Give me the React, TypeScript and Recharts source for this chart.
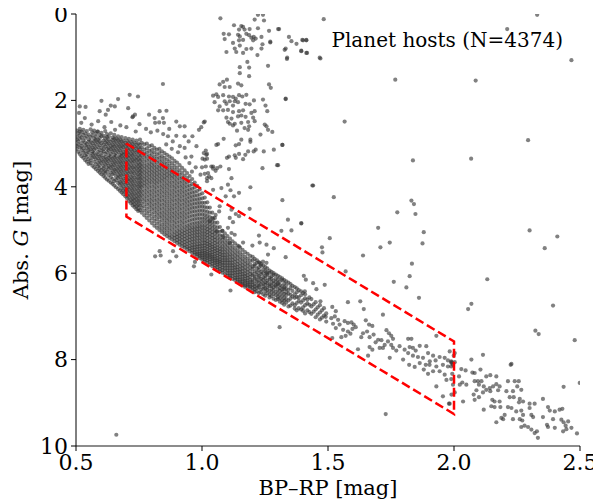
import React from 'react';
import { ScatterChart, Scatter, XAxis, YAxis } from 'recharts';

type Pt = [number, number];

const FONT = '"DejaVu Serif", "Liberation Serif", serif';

const xTicks = [0.5, 1.0, 1.5, 2.0, 2.5];
const yTicks = [0, 2, 4, 6, 8, 10];
const hostsLabel = 'Planet hosts (N=4374)';

// giant branch / red clump (top middle)
const giantBranch: Pt[] = [
  [1.073, 0.1], [1.209, 0.13], [1.222, 0.02], [1.242, 0.02], [1.246, 0.15], [1.127, 0.26], [1.156, 0.28],
  [1.163, 0.3], [1.147, 0.36], [1.169, 0.36], [1.189, 0.35], [1.222, 0.33], [1.266, 0.39], [1.306, 0.35],
  [1.086, 0.46], [1.107, 0.47], [1.143, 0.48], [1.15, 0.52], [1.176, 0.46], [1.187, 0.49], [1.196, 0.55],
  [1.205, 0.53], [1.213, 0.57], [1.203, 0.61], [1.147, 0.61], [1.163, 0.6], [1.09, 0.58], [1.236, 0.53],
  [1.271, 0.64], [1.24, 0.7], [1.123, 0.67], [1.15, 0.73], [1.345, 0.53], [1.355, 0.63], [1.375, 0.69],
  [1.398, 0.6], [1.414, 0.6], [1.332, 0.8], [1.394, 0.86], [1.414, 0.9], [1.467, 1.01], [1.338, 1.01],
  [1.13, 0.8], [1.136, 0.88], [1.163, 0.9], [1.176, 0.81], [1.196, 0.8], [1.236, 0.8], [1.22, 0.95],
  [1.097, 0.88], [1.18, 1.11], [1.15, 1.23], [1.187, 1.24], [1.262, 1.2], [1.15, 1.37], [1.187, 1.44],
  [1.099, 1.52], [1.084, 1.57], [1.07, 1.63], [1.09, 1.69], [1.11, 1.69], [1.143, 1.61], [1.156, 1.65],
  [1.266, 1.63], [1.273, 1.71], [1.057, 1.86], [1.044, 1.89], [1.064, 1.92], [1.084, 1.88], [1.107, 1.91],
  [1.123, 1.92], [1.134, 1.96], [1.147, 1.88], [1.16, 1.91], [1.176, 1.87], [1.09, 2.02], [1.11, 2.02],
  [1.13, 2.02], [1.143, 2.04], [1.05, 2.04], [1.07, 2.14], [1.097, 2.08], [1.123, 2.12], [1.173, 2.08],
  [1.189, 2.09], [1.206, 2.0], [1.242, 1.98], [1.252, 2.12], [1.332, 1.96], [1.064, 2.23], [1.084, 2.23],
  [1.103, 2.22], [1.123, 2.27], [1.147, 2.25], [1.163, 2.23], [1.196, 2.29], [1.209, 2.25], [1.259, 2.25],
  [1.097, 2.4], [1.117, 2.42], [1.143, 2.37], [1.156, 2.35], [1.173, 2.38], [1.203, 2.4], [1.103, 2.5],
  [1.11, 2.54], [1.13, 2.54], [1.156, 2.52], [1.183, 2.5], [1.209, 2.48], [1.249, 2.56], [1.011, 2.49],
];

// subgiants between the clump and the main sequence
const subgiants: Pt[] = [
  [0.997, 2.62], [1.123, 2.58], [1.139, 2.7], [1.169, 2.64], [1.187, 2.6], [1.183, 2.68], [1.256, 2.6],
  [1.262, 2.68], [1.279, 2.73], [1.232, 2.79], [1.086, 2.89], [1.156, 2.91], [1.192, 2.91], [1.192, 2.96],
  [1.147, 3.01], [1.134, 3.04], [1.064, 3.01], [1.319, 3.03], [1.285, 3.14], [1.245, 3.18], [1.213, 3.14],
  [1.205, 3.18], [1.183, 3.18], [1.172, 3.26], [1.147, 3.24], [1.13, 3.27], [1.134, 3.33], [1.163, 3.36],
  [1.107, 3.3], [1.099, 3.33], [1.015, 3.16], [1.02, 3.24], [1.007, 3.22], [1.011, 3.37], [1.002, 3.35],
  [1.02, 3.35], [1.015, 3.53], [1.037, 3.53], [1.06, 3.57], [1.073, 3.53], [1.054, 3.63], [1.044, 3.58],
  [1.024, 3.68], [1.011, 3.7], [1.037, 3.8], [1.028, 3.76], [1.02, 3.87], [1.107, 3.59], [1.117, 3.8],
  [1.24, 3.57], [1.298, 3.5], [1.441, 3.97], [1.192, 4.01], [1.077, 4.03], [1.044, 4.07], [1.103, 3.95],
  [1.113, 4.08], [1.147, 4.14], [1.127, 4.22], [1.094, 4.22], [1.07, 4.45], [1.068, 4.57], [1.054, 4.65],
  [1.044, 4.74], [1.031, 4.8], [1.117, 4.53], [1.11, 4.72], [1.123, 4.82], [1.134, 4.63], [1.147, 4.68],
  [1.189, 4.51], [1.103, 4.95], [1.081, 5.02], [1.057, 5.03], [1.117, 5.07], [1.341, 4.76], [1.394, 4.84],
  [1.315, 5.02], [1.355, 5.01],
];

// upper edge of the turn-off region
const turnoffHalo: Pt[] = [
  [0.515, 2.14], [0.538, 2.15], [0.512, 2.29], [0.535, 2.41], [0.521, 2.52], [0.515, 2.72], [0.601, 2.01],
  [0.667, 1.97], [0.713, 1.87], [0.746, 1.91], [0.627, 2.22], [0.594, 2.25], [0.618, 2.33], [0.654, 2.14],
  [0.707, 2.18], [0.726, 2.37], [0.832, 2.25], [0.859, 2.24], [0.79, 2.33], [0.812, 2.41], [0.845, 2.41],
  [0.898, 2.49], [0.912, 2.6], [0.931, 2.6], [1.007, 2.51], [0.988, 2.68], [0.962, 2.83], [0.931, 2.83],
  [0.898, 2.82], [0.865, 2.83], [0.912, 3.06], [0.978, 3.06], [1.057, 3.03], [1.017, 3.26], [1.044, 3.53],
  [0.994, 3.72], [0.958, 3.3], [0.931, 3.1], [0.638, 2.12], [0.734, 2.33], [0.724, 2.39], [0.814, 2.52],
  [0.83, 2.51], [0.849, 2.52], [0.562, 2.56], [0.588, 2.48], [0.64, 2.5], [0.676, 2.58], [0.7, 2.62],
  [0.752, 2.55], [0.778, 2.66], [0.797, 2.74], [0.823, 2.7], [0.846, 2.78], [0.87, 2.66], [0.884, 2.95],
  [0.947, 2.95], [0.858, 3.02], [0.88, 3.12], [0.905, 3.2], [0.95, 3.45], [0.975, 3.55], [0.935, 3.32],
  [0.96, 3.65], [1.02, 3.8], [1.0, 3.55], [0.613, 2.62], [0.585, 2.72], [0.737, 2.72], [0.655, 2.68],
];

// dense main sequence, read column by column: [BP-RP, G values]
const mainSeqCols: [number, number[]][] = [
  [0.503, [2.7, 2.84, 2.91, 3.05, 3.12]],
  [0.509, [2.76, 2.95, 3.02, 3.19]],
  [0.515, [2.66, 2.81, 2.89, 3.09, 3.24]],
  [0.522, [2.73, 2.86, 2.99, 3.06, 3.15, 3.29]],
  [0.529, [2.68, 2.8, 2.93, 3.11, 3.21, 3.33]],
  [0.536, [2.76, 2.87, 2.97, 3.04, 3.17, 3.27, 3.38]],
  [0.543, [2.71, 2.83, 3.01, 3.1, 3.24, 3.31, 3.42]],
  [0.55, [2.79, 2.9, 2.96, 3.07, 3.15, 3.2, 3.36, 3.47]],
  [0.558, [2.67, 2.85, 2.94, 3.03, 3.13, 3.28, 3.39, 3.45]],
  [0.565, [2.74, 2.81, 2.99, 3.09, 3.18, 3.24, 3.33, 3.51]],
  [0.572, [2.7, 2.88, 2.95, 3.05, 3.14, 3.22, 3.31, 3.42, 3.55]],
  [0.579, [2.77, 2.84, 2.92, 3.01, 3.11, 3.27, 3.36, 3.48, 3.59]],
  [0.587, [2.72, 2.91, 2.98, 3.08, 3.19, 3.25, 3.34, 3.44, 3.53, 3.63]],
  [0.594, [2.8, 2.87, 2.95, 3.04, 3.15, 3.3, 3.4, 3.5, 3.58, 3.67]],
  [0.601, [2.75, 2.83, 2.99, 3.1, 3.21, 3.28, 3.37, 3.45, 3.61, 3.71]],
  [0.609, [2.82, 2.93, 3.03, 3.13, 3.18, 3.33, 3.42, 3.52, 3.57, 3.66, 3.75]],
  [0.616, [2.71, 2.88, 2.97, 3.07, 3.24, 3.31, 3.39, 3.48, 3.62, 3.7, 3.79]],
  [0.623, [2.78, 2.85, 2.94, 3.02, 3.12, 3.2, 3.36, 3.45, 3.55, 3.65, 3.83]],
  [0.63, [2.83, 2.91, 3.0, 3.09, 3.16, 3.27, 3.33, 3.41, 3.51, 3.59, 3.73, 3.86]],
  [0.638, [2.76, 2.96, 3.05, 3.13, 3.23, 3.3, 3.38, 3.48, 3.56, 3.67, 3.78, 3.9]],
  [0.645, [2.86, 2.92, 3.02, 3.1, 3.19, 3.35, 3.44, 3.53, 3.62, 3.71, 3.82, 3.93]],
  [0.652, [2.8, 2.89, 2.98, 3.07, 3.16, 3.26, 3.32, 3.41, 3.5, 3.6, 3.69, 3.87, 3.97]],
  [0.659, [2.88, 2.95, 3.04, 3.13, 3.22, 3.29, 3.38, 3.47, 3.57, 3.65, 3.76, 3.84, 4.01]],
  [0.667, [2.83, 2.92, 3.01, 3.1, 3.19, 3.35, 3.44, 3.54, 3.63, 3.72, 3.8, 3.91, 4.05]],
  [0.674, [2.9, 2.98, 3.07, 3.16, 3.26, 3.32, 3.41, 3.5, 3.59, 3.68, 3.77, 3.88, 3.96, 4.09]],
  [0.681, [2.85, 2.95, 3.04, 3.12, 3.22, 3.29, 3.38, 3.47, 3.56, 3.65, 3.74, 3.84, 3.93, 4.03, 4.13]],
  [0.688, [2.93, 3.01, 3.09, 3.19, 3.26, 3.35, 3.44, 3.53, 3.62, 3.71, 3.81, 3.9, 3.99, 4.08, 4.17]],
  [0.696, [2.87, 2.98, 3.06, 3.15, 3.24, 3.32, 3.41, 3.5, 3.59, 3.68, 3.77, 3.86, 3.95, 4.05, 4.12, 4.22]],
  [0.703, [2.94, 3.03, 3.12, 3.21, 3.29, 3.38, 3.47, 3.57, 3.65, 3.74, 3.83, 3.92, 4.02, 4.1, 4.19, 4.27]],
  [0.71, [2.89, 2.99, 3.08, 3.17, 3.26, 3.34, 3.43, 3.52, 3.61, 3.7, 3.8, 3.88, 3.97, 4.06, 4.15, 4.24, 4.33]],
  [0.718, [2.96, 3.05, 3.14, 3.23, 3.31, 3.4, 3.5, 3.58, 3.67, 3.77, 3.85, 3.94, 4.03, 4.12, 4.21, 4.3, 4.38]],
  [0.725, [2.91, 3.01, 3.1, 3.19, 3.28, 3.37, 3.45, 3.55, 3.64, 3.73, 3.82, 3.91, 4.0, 4.09, 4.18, 4.27, 4.35, 4.43]],
  [0.732, [2.98, 3.07, 3.16, 3.25, 3.34, 3.42, 3.52, 3.6, 3.69, 3.79, 3.88, 3.97, 4.06, 4.15, 4.24, 4.32, 4.4, 4.47]],
  [0.74, [2.93, 3.03, 3.12, 3.21, 3.31, 3.39, 3.48, 3.57, 3.66, 3.75, 3.84, 3.94, 4.03, 4.12, 4.21, 4.29, 4.37, 4.45, 4.52]],
  [0.747, [3.0, 3.09, 3.18, 3.27, 3.36, 3.45, 3.54, 3.63, 3.72, 3.81, 3.9, 3.99, 4.08, 4.17, 4.26, 4.34, 4.42, 4.5, 4.56]],
  [0.754, [2.91, 3.03, 3.13, 3.22, 3.31, 3.4, 3.49, 3.57, 3.65, 3.73, 3.81, 3.89, 3.97, 4.05, 4.14, 4.23, 4.33, 4.43, 4.54]],
  [0.761, [2.98, 3.09, 3.19, 3.28, 3.37, 3.46, 3.54, 3.62, 3.7, 3.78, 3.86, 3.94, 4.02, 4.11, 4.2, 4.29, 4.39, 4.49, 4.6]],
  [0.771, [3.02, 3.14, 3.24, 3.33, 3.42, 3.51, 3.59, 3.67, 3.75, 3.83, 3.91, 3.99, 4.08, 4.17, 4.26, 4.35, 4.45, 4.55, 4.66]],
  [0.781, [3.0, 3.11, 3.21, 3.3, 3.39, 3.48, 3.56, 3.64, 3.72, 3.8, 3.88, 3.96, 4.05, 4.14, 4.23, 4.32, 4.41, 4.51, 4.61, 4.72]],
  [0.791, [3.06, 3.17, 3.27, 3.36, 3.45, 3.53, 3.61, 3.69, 3.77, 3.85, 3.93, 4.02, 4.11, 4.2, 4.29, 4.38, 4.47, 4.57, 4.67, 4.78]],
  [0.801, [3.04, 3.15, 3.24, 3.33, 3.42, 3.5, 3.58, 3.66, 3.74, 3.82, 3.9, 3.99, 4.08, 4.17, 4.26, 4.35, 4.44, 4.53, 4.63, 4.73, 4.84]],
  [0.811, [3.1, 3.2, 3.3, 3.39, 3.48, 3.56, 3.64, 3.72, 3.8, 3.88, 3.96, 4.05, 4.14, 4.23, 4.32, 4.41, 4.5, 4.59, 4.69, 4.79, 4.9]],
  [0.821, [3.14, 3.25, 3.35, 3.44, 3.53, 3.61, 3.69, 3.77, 3.85, 3.93, 4.02, 4.11, 4.2, 4.29, 4.38, 4.47, 4.56, 4.65, 4.75, 4.85, 4.95]],
  [0.831, [3.12, 3.22, 3.32, 3.41, 3.5, 3.58, 3.66, 3.74, 3.82, 3.9, 3.99, 4.08, 4.17, 4.26, 4.35, 4.44, 4.53, 4.62, 4.71, 4.81, 4.91, 5.0]],
  [0.841, [3.18, 3.29, 3.38, 3.47, 3.55, 3.63, 3.71, 3.79, 3.87, 3.96, 4.05, 4.14, 4.23, 4.32, 4.41, 4.5, 4.59, 4.68, 4.77, 4.87, 4.96, 5.05]],
  [0.851, [3.22, 3.33, 3.43, 3.52, 3.6, 3.68, 3.76, 3.84, 3.93, 4.02, 4.11, 4.2, 4.29, 4.38, 4.47, 4.56, 4.65, 4.74, 4.83, 4.92, 5.01, 5.1]],
  [0.861, [3.26, 3.37, 3.47, 3.56, 3.64, 3.72, 3.8, 3.89, 3.98, 4.07, 4.16, 4.25, 4.34, 4.43, 4.52, 4.61, 4.7, 4.79, 4.88, 4.97, 5.06, 5.14]],
  [0.871, [3.3, 3.41, 3.51, 3.6, 3.68, 3.76, 3.85, 3.94, 4.03, 4.12, 4.21, 4.3, 4.39, 4.48, 4.57, 4.66, 4.75, 4.84, 4.93, 5.02, 5.11, 5.18]],
  [0.881, [3.34, 3.46, 3.56, 3.65, 3.73, 3.81, 3.9, 3.99, 4.08, 4.17, 4.26, 4.35, 4.44, 4.53, 4.62, 4.71, 4.8, 4.89, 4.98, 5.07, 5.15, 5.22]],
  [0.891, [3.4, 3.51, 3.61, 3.7, 3.78, 3.87, 3.96, 4.05, 4.14, 4.23, 4.32, 4.41, 4.5, 4.59, 4.68, 4.77, 4.86, 4.95, 5.04, 5.12, 5.19, 5.26]],
  [0.901, [3.44, 3.56, 3.66, 3.75, 3.84, 3.93, 4.02, 4.11, 4.2, 4.29, 4.38, 4.47, 4.56, 4.65, 4.74, 4.83, 4.92, 5.01, 5.09, 5.16, 5.23, 5.3]],
  [0.911, [3.5, 3.62, 3.72, 3.81, 3.9, 3.99, 4.08, 4.17, 4.26, 4.35, 4.44, 4.53, 4.62, 4.71, 4.8, 4.89, 4.98, 5.06, 5.13, 5.2, 5.27, 5.34]],
  [0.921, [3.56, 3.68, 3.78, 3.87, 3.96, 4.05, 4.14, 4.23, 4.32, 4.41, 4.5, 4.59, 4.68, 4.77, 4.86, 4.95, 5.03, 5.1, 5.17, 5.24, 5.31, 5.38]],
  [0.931, [3.62, 3.74, 3.84, 3.93, 4.02, 4.11, 4.2, 4.29, 4.38, 4.47, 4.56, 4.65, 4.74, 4.83, 4.92, 5.0, 5.07, 5.14, 5.21, 5.28, 5.35, 5.41]],
  [0.941, [3.68, 3.8, 3.9, 3.99, 4.08, 4.17, 4.26, 4.35, 4.44, 4.53, 4.62, 4.71, 4.8, 4.89, 4.97, 5.04, 5.11, 5.18, 5.25, 5.32, 5.39, 5.45]],
  [0.951, [3.75, 3.87, 3.97, 4.06, 4.15, 4.24, 4.33, 4.42, 4.51, 4.6, 4.69, 4.78, 4.87, 4.95, 5.02, 5.09, 5.16, 5.23, 5.3, 5.37, 5.43, 5.49]],
  [0.961, [3.82, 3.94, 4.04, 4.13, 4.22, 4.31, 4.4, 4.49, 4.58, 4.67, 4.76, 4.85, 4.93, 5.0, 5.07, 5.14, 5.21, 5.28, 5.35, 5.41, 5.47, 5.53]],
  [0.971, [3.9, 4.02, 4.12, 4.21, 4.3, 4.39, 4.48, 4.57, 4.66, 4.75, 4.84, 4.92, 4.99, 5.06, 5.13, 5.2, 5.27, 5.34, 5.4, 5.46, 5.52, 5.57]],
  [0.981, [3.98, 4.1, 4.2, 4.29, 4.38, 4.47, 4.56, 4.65, 4.74, 4.83, 4.91, 4.98, 5.05, 5.12, 5.19, 5.26, 5.33, 5.39, 5.45, 5.51, 5.56, 5.61]],
  [0.991, [4.06, 4.18, 4.28, 4.37, 4.46, 4.55, 4.64, 4.73, 4.82, 4.9, 4.97, 5.04, 5.11, 5.18, 5.25, 5.32, 5.38, 5.44, 5.5, 5.55, 5.6, 5.65]],
  [1.001, [4.15, 4.27, 4.37, 4.46, 4.55, 4.64, 4.73, 4.81, 4.89, 4.96, 5.03, 5.1, 5.17, 5.24, 5.31, 5.37, 5.43, 5.49, 5.54, 5.59, 5.64, 5.69]],
  [1.011, [4.25, 4.37, 4.47, 4.56, 4.65, 4.73, 4.81, 4.89, 4.96, 5.03, 5.1, 5.17, 5.24, 5.3, 5.36, 5.42, 5.48, 5.53, 5.58, 5.63, 5.68, 5.73]],
  [1.021, [4.36, 4.48, 4.58, 4.67, 4.75, 4.83, 4.91, 4.98, 5.05, 5.12, 5.19, 5.26, 5.32, 5.38, 5.44, 5.5, 5.55, 5.6, 5.65, 5.7, 5.76]],
  [1.031, [4.48, 4.6, 4.7, 4.78, 4.86, 4.94, 5.01, 5.08, 5.15, 5.22, 5.29, 5.35, 5.41, 5.47, 5.53, 5.58, 5.63, 5.68, 5.74, 5.8]],
  [1.041, [4.6, 4.72, 4.81, 4.89, 4.97, 5.05, 5.12, 5.19, 5.26, 5.33, 5.39, 5.45, 5.51, 5.57, 5.62, 5.67, 5.72, 5.78, 5.84]],
  [1.051, [4.72, 4.83, 4.92, 5.0, 5.08, 5.16, 5.23, 5.3, 5.37, 5.43, 5.49, 5.55, 5.61, 5.66, 5.71, 5.76, 5.82, 5.88]],
  [1.061, [4.83, 4.94, 5.03, 5.11, 5.19, 5.27, 5.34, 5.41, 5.47, 5.53, 5.59, 5.65, 5.7, 5.75, 5.8, 5.86, 5.92]],
  [1.071, [4.93, 5.04, 5.13, 5.21, 5.29, 5.37, 5.44, 5.5, 5.56, 5.62, 5.68, 5.73, 5.78, 5.84, 5.9, 5.96]],
  [1.081, [5.02, 5.13, 5.22, 5.3, 5.38, 5.45, 5.52, 5.58, 5.64, 5.7, 5.76, 5.81, 5.87, 5.93, 5.99]],
  [1.091, [5.08, 5.19, 5.28, 5.36, 5.44, 5.51, 5.58, 5.64, 5.7, 5.76, 5.82, 5.88, 5.94, 6.02]],
  [1.101, [5.14, 5.25, 5.34, 5.42, 5.5, 5.57, 5.64, 5.7, 5.76, 5.82, 5.88, 5.94, 6.0, 6.06]],
  [1.111, [5.2, 5.31, 5.4, 5.48, 5.56, 5.63, 5.7, 5.76, 5.82, 5.88, 5.94, 6.0, 6.06, 6.1]],
  [1.121, [5.26, 5.37, 5.46, 5.54, 5.62, 5.69, 5.76, 5.82, 5.88, 5.94, 6.0, 6.06, 6.13]],
  [1.131, [5.31, 5.42, 5.51, 5.59, 5.67, 5.74, 5.81, 5.87, 5.93, 5.99, 6.05, 6.11, 6.16]],
  [1.141, [5.36, 5.47, 5.56, 5.64, 5.72, 5.79, 5.86, 5.92, 5.98, 6.04, 6.1, 6.15, 6.2]],
  [1.151, [5.41, 5.52, 5.61, 5.69, 5.77, 5.84, 5.91, 5.97, 6.03, 6.09, 6.15, 6.2, 6.24]],
  [1.161, [5.46, 5.57, 5.66, 5.74, 5.82, 5.89, 5.96, 6.02, 6.08, 6.14, 6.19, 6.24, 6.28]],
  [1.171, [5.51, 5.62, 5.71, 5.79, 5.87, 5.94, 6.01, 6.07, 6.13, 6.18, 6.23, 6.28, 6.32]],
  [1.181, [5.55, 5.66, 5.75, 5.83, 5.91, 5.98, 6.05, 6.11, 6.17, 6.22, 6.27, 6.31]],
  [1.191, [5.6, 5.7, 5.79, 5.87, 5.95, 6.02, 6.09, 6.15, 6.21, 6.26, 6.31, 6.35]],
  [1.201, [5.62, 5.71, 5.85, 5.9, 6.01, 6.05, 6.16, 6.2, 6.27, 6.33, 6.4]],
  [1.209, [5.67, 5.79, 5.83, 5.96, 6.08, 6.12, 6.24, 6.31, 6.37, 6.44]],
  [1.218, [5.7, 5.76, 5.89, 5.98, 6.03, 6.15, 6.19, 6.28, 6.35, 6.42]],
  [1.226, [5.75, 5.86, 5.93, 6.06, 6.1, 6.22, 6.29, 6.33, 6.46]],
  [1.234, [5.79, 5.83, 5.97, 6.02, 6.13, 6.18, 6.26, 6.38, 6.44]],
  [1.243, [5.82, 5.91, 6.0, 6.09, 6.16, 6.24, 6.31, 6.36, 6.49]],
  [1.251, [5.86, 5.95, 6.06, 6.12, 6.21, 6.27, 6.35, 6.42, 6.52]],
  [1.259, [5.89, 6.01, 6.04, 6.17, 6.23, 6.33, 6.39, 6.47]],
  [1.268, [5.94, 5.99, 6.1, 6.15, 6.26, 6.3, 6.41, 6.5, 6.56]],
  [1.276, [5.97, 6.07, 6.13, 6.21, 6.29, 6.36, 6.44, 6.53]],
  [1.284, [6.0, 6.04, 6.17, 6.24, 6.33, 6.39, 6.48, 6.59]],
  [1.293, [6.03, 6.12, 6.2, 6.28, 6.31, 6.43, 6.51, 6.62]],
  [1.301, [6.06, 6.15, 6.23, 6.26, 6.37, 6.46, 6.55, 6.6]],
  [1.309, [6.09, 6.19, 6.27, 6.34, 6.41, 6.5, 6.58, 6.66]],
  [1.318, [6.12, 6.16, 6.3, 6.38, 6.44, 6.53, 6.62, 6.69]],
  [1.326, [6.16, 6.24, 6.33, 6.37, 6.48, 6.57, 6.64, 6.73]],
  [1.334, [6.19, 6.28, 6.36, 6.44, 6.51, 6.6, 6.68]],
  [1.343, [6.22, 6.39, 6.47, 6.63, 6.77]],
  [1.351, [6.25, 6.34, 6.5, 6.59, 6.75]],
  [1.359, [6.29, 6.41, 6.54, 6.7]],
  [1.368, [6.32, 6.49, 6.57, 6.74, 6.82]],
  [1.376, [6.35, 6.44, 6.55, 6.69, 6.86]],
  [1.384, [6.39, 6.56, 6.64, 6.81]],
  [1.393, [6.42, 6.51, 6.68, 6.84]],
  [1.401, [6.46, 6.63, 6.79, 6.87]],
  [1.409, [6.49, 6.58, 6.74, 6.93]],
  [1.418, [6.61, 6.7, 6.86]],
  [1.426, [6.56, 6.73, 6.9]],
  [1.434, [6.6, 6.77, 6.94]],
  [1.443, [6.72, 6.89]],
  [1.451, [6.67, 6.84, 7.02]],
  [1.459, [6.79, 6.96]],
  [1.468, [6.74, 6.91, 7.07]],
  [1.476, [6.86, 7.03]],
  [1.484, [6.81, 6.98]],
  [1.493, [6.93, 7.12]],
];

// band edges around 1.1-1.5
const bandEdge: Pt[] = [
  [1.226, 5.13], [1.229, 5.29], [1.256, 5.34], [1.285, 5.42], [1.262, 5.57], [1.2, 5.36], [1.163, 5.29],
  [1.13, 5.11], [1.084, 5.16], [1.11, 5.3], [1.147, 5.38], [1.242, 5.73], [1.229, 5.76], [1.256, 5.76],
  [1.256, 5.98], [1.404, 6.06], [1.412, 6.15], [1.441, 6.23], [1.487, 6.27], [1.454, 6.37], [1.408, 6.42],
  [1.47, 6.65], [1.491, 7.01],
];

// K/M dwarfs, BP-RP 1.5 to 2.0
const redDwarfs: Pt[] = [
  [1.639, 5.59], [1.57, 5.96], [1.833, 5.78], [1.824, 6.07], [1.761, 6.2], [1.811, 6.33], [1.861, 6.57],
  [1.579, 6.67], [1.628, 6.65], [1.642, 6.83], [1.718, 6.96], [1.517, 6.78], [1.531, 6.88],
  [1.513, 7.04], [1.527, 7.0], [1.54, 7.08], [1.52, 7.17], [1.546, 7.19], [1.566, 7.11], [1.579, 7.15],
  [1.593, 7.14], [1.602, 7.19], [1.61, 7.25], [1.531, 7.27], [1.56, 7.31], [1.579, 7.35], [1.597, 7.29],
  [1.553, 7.48], [1.57, 7.45], [1.589, 7.4], [1.517, 7.5], [1.65, 7.09], [1.663, 7.19], [1.676, 7.22],
  [1.655, 7.35], [1.639, 7.39], [1.632, 7.48], [1.665, 7.48], [1.681, 7.42], [1.699, 7.54], [1.689, 7.6],
  [1.712, 7.55], [1.732, 7.32], [1.742, 7.39], [1.751, 7.45], [1.758, 7.52], [1.738, 7.58], [1.725, 7.66],
  [1.705, 7.73], [1.718, 7.73], [1.619, 7.76], [1.665, 7.71], [1.659, 7.91], [1.676, 7.77], [1.745, 7.96],
  [1.818, 7.52], [1.831, 7.52], [1.784, 7.69], [1.804, 7.77], [1.824, 7.71], [1.837, 7.73], [1.848, 7.79],
  [1.864, 7.68], [1.818, 7.85], [1.837, 7.91], [1.857, 7.94], [1.877, 7.96], [1.897, 7.85], [1.917, 7.91],
  [1.904, 8.04], [1.927, 8.02], [1.943, 7.94], [1.963, 7.96], [1.976, 8.02], [1.99, 8.06], [1.956, 8.12],
  [1.93, 8.16], [1.888, 8.12], [1.864, 8.08], [1.844, 8.17], [1.822, 8.12], [1.798, 8.0], [1.771, 7.79],
  [1.758, 7.73], [1.751, 7.66], [1.89, 7.69], [1.93, 7.45], [1.983, 7.81], [1.999, 7.91],
  [1.93, 8.62], [1.956, 8.85], [1.98, 9.02], [1.99, 8.81], [1.97, 8.47], [1.963, 8.35], [1.943, 8.27],
  [1.976, 8.16], [1.99, 8.08], [1.917, 8.27], [1.897, 8.33], [1.88, 8.23], [1.903, 8.12], [2.003, 7.85],
];

// M dwarfs, BP-RP beyond 2.0
const coolDwarfs: Pt[] = [
  [2.115, 7.89], [2.228, 8.1], [1.989, 8.04], [1.996, 8.12], [2.003, 8.06], [2.029, 8.22], [2.046, 8.25],
  [2.073, 8.3], [2.082, 8.31], [2.105, 8.23], [2.128, 8.39], [2.144, 8.36], [2.168, 8.39], [1.993, 8.33],
  [2.02, 8.39], [2.033, 8.53], [2.049, 8.58], [2.023, 8.58], [2.082, 8.5], [2.095, 8.5], [2.109, 8.5],
  [2.099, 8.58], [2.118, 8.62], [2.128, 8.7], [2.142, 8.66], [2.155, 8.62], [2.168, 8.57], [2.181, 8.62],
  [2.214, 8.5], [2.241, 8.5], [2.257, 8.5], [2.251, 8.62], [2.267, 8.7], [2.234, 8.73], [2.208, 8.73],
  [2.175, 8.71], [2.144, 8.73], [2.115, 8.76], [2.089, 8.71], [2.078, 8.81], [2.082, 8.93], [2.099, 8.87],
  [2.152, 8.93], [2.181, 8.97], [2.161, 8.97], [2.148, 9.08], [2.161, 9.1], [2.184, 9.1], [2.237, 8.87],
  [2.261, 8.91], [2.274, 8.97], [2.258, 8.99], [2.221, 8.87], [2.036, 8.97], [2.118, 9.16], [2.214, 9.1],
  [2.228, 9.12], [2.247, 9.2], [2.267, 9.18], [2.3, 9.02], [2.32, 9.02], [2.353, 8.91], [2.3, 9.12],
  [2.373, 9.1], [2.38, 9.18], [2.4, 9.2], [2.419, 9.16], [2.43, 9.14], [2.307, 9.28], [2.314, 9.33],
  [2.274, 9.28], [2.261, 9.38], [2.271, 9.41], [2.234, 9.38], [2.201, 9.28], [2.195, 9.38], [2.168, 9.45],
  [2.188, 9.35], [2.28, 9.53], [2.267, 9.56], [2.294, 9.56], [2.307, 9.62], [2.329, 9.66], [2.333, 9.81],
  [2.32, 9.7], [2.369, 9.51], [2.373, 9.56], [2.4, 9.58], [2.426, 9.39], [2.435, 9.45], [2.453, 9.43],
  [2.443, 9.53], [2.466, 9.58], [2.488, 9.71], [2.446, 9.61], [2.433, 9.66], [2.393, 9.38], [2.353, 9.33],
  [1.989, 8.45], [1.996, 8.58], [2.003, 8.76], [1.983, 9.02], [1.989, 8.16],
];

// scattered field stars
const fieldStars: Pt[] = [
  [1.483, 0.12], [1.401, 0.61], [1.414, 0.61], [1.394, 0.85], [1.417, 0.9], [1.47, 1.03], [2.33, 0.02],
  [2.211, 0.35], [2.466, 1.07], [1.767, 1.52], [2.086, 1.54], [1.566, 2.49], [2.294, 2.92], [1.837, 3.39],
  [2.068, 3.35], [1.438, 3.97], [1.523, 4.24], [1.831, 4.32], [1.841, 4.4], [1.775, 4.59], [1.847, 4.63],
  [1.394, 4.85], [1.699, 4.95], [1.88, 5.05], [2.3, 5.01], [1.507, 5.19], [1.476, 5.4], [1.708, 5.4],
  [1.745, 5.29], [1.875, 5.31], [2.41, 5.15], [2.36, 5.42], [0.845, 1.62], [1.328, 0.83], [1.337, 1.04],
  [1.332, 1.97], [1.319, 3.03], [1.302, 3.5], [1.319, 4.31], [1.271, 0.66], [1.302, 0.35], [1.478, 5.52],
  [2.132, 6.14], [2.056, 6.83], [2.069, 6.71], [2.393, 6.75], [2.323, 7.33], [2.336, 7.41], [2.479, 7.55],
  [2.069, 8.0], [2.225, 8.12], [2.435, 8.63], [2.499, 8.54], [1.729, 9.26], [0.66, 9.74], [1.308, 7.25],
  [1.332, 5.63], [1.113, 6.4], [1.037, 6.03], [0.814, 5.61], [0.832, 5.49], [0.836, 5.59], [0.872, 5.73],
  [0.885, 5.49], [0.898, 5.61], [0.968, 5.84], [0.972, 5.74],
];

// selection region (dashed red)
const selectionBox: Pt[] = [[0.7, 3.0], [2.0, 7.58], [2.0, 9.26], [0.7, 4.69], [0.7, 3.0]];

const toXY = (p: Pt) => ({ x: p[0], y: p[1] });

const hosts = [
  ...mainSeqCols.flatMap(([x, ys]) => ys.map((y) => ({ x, y }))),
  ...turnoffHalo.map(toXY),
  ...subgiants.map(toXY),
  ...giantBranch.map(toXY),
  ...bandEdge.map(toXY),
  ...redDwarfs.map(toXY),
  ...coolDwarfs.map(toXY),
  ...fieldStars.map(toXY),
];
const boxData = selectionBox.map(toXY);

const Dot = (props: any) => (
  <circle cx={props.cx} cy={props.cy} r={2.1} fill="#333" fillOpacity={0.62} />
);
const NoDot = () => <g />;

const serif = { fontFamily: FONT };

const XTitle = () => (
  <text x={320} y={487} textAnchor="middle" style={serif} fontSize={21} fill="#000">
    BP–RP [mag]
  </text>
);

// y title plus the in-plot annotation
const YTitle = () => (
  <g>
    <text transform="translate(20,222) rotate(-90)" textAnchor="middle" style={serif} fontSize={21} fill="#000">
      Abs. <tspan fontStyle="italic">G</tspan> [mag]
    </text>
    <text x={555} y={39} textAnchor="end" style={serif} fontSize={20} fill="#000">
      {hostsLabel}
    </text>
  </g>
);

const tickStyle = { fill: '#000', fontSize: 22, style: serif };

export default function App() {
  return (
    <ScatterChart width={593} height={495} margin={{ top: 6, right: 21, bottom: 0, left: 0 }}>
      <XAxis
        xAxisId={0}
        type="number"
        dataKey="x"
        domain={[0.5, 2.5]}
        ticks={xTicks}
        interval={0}
        allowDataOverflow
        tickFormatter={(v: number) => v.toFixed(1)}
        height={57}
        tickSize={5}
        tickMargin={3}
        tick={tickStyle}
        axisLine={{ stroke: '#666', strokeWidth: 1.3 }}
        tickLine={{ stroke: '#000' }}
        label={{ content: () => <XTitle /> }}
      />
      <XAxis
        xAxisId="top"
        orientation="top"
        type="number"
        dataKey="x"
        domain={[0.5, 2.5]}
        allowDataOverflow
        height={0}
        tick={false}
        tickLine={false}
        axisLine={{ stroke: '#000' }}
      />
      <YAxis
        yAxisId={0}
        type="number"
        dataKey="y"
        domain={[0, 10]}
        reversed
        ticks={yTicks}
        interval={0}
        allowDataOverflow
        width={68}
        tickSize={5}
        tickMargin={3}
        tick={tickStyle}
        axisLine={{ stroke: '#000' }}
        tickLine={{ stroke: '#000' }}
        label={{ content: () => <YTitle /> }}
      />
      <YAxis
        yAxisId="right"
        orientation="right"
        type="number"
        dataKey="y"
        domain={[0, 10]}
        reversed
        allowDataOverflow
        width={0}
        tick={false}
        tickLine={false}
        axisLine={{ stroke: '#000' }}
      />
      <Scatter data={hosts} shape={Dot} isAnimationActive={false} />
      <Scatter
        data={boxData}
        xAxisId="top"
        yAxisId="right"
        shape={NoDot}
        line={{ stroke: '#ff0000', strokeWidth: 2.5, strokeDasharray: '9 4' }}
        lineType="joint"
        isAnimationActive={false}
      />
    </ScatterChart>
  );
}
